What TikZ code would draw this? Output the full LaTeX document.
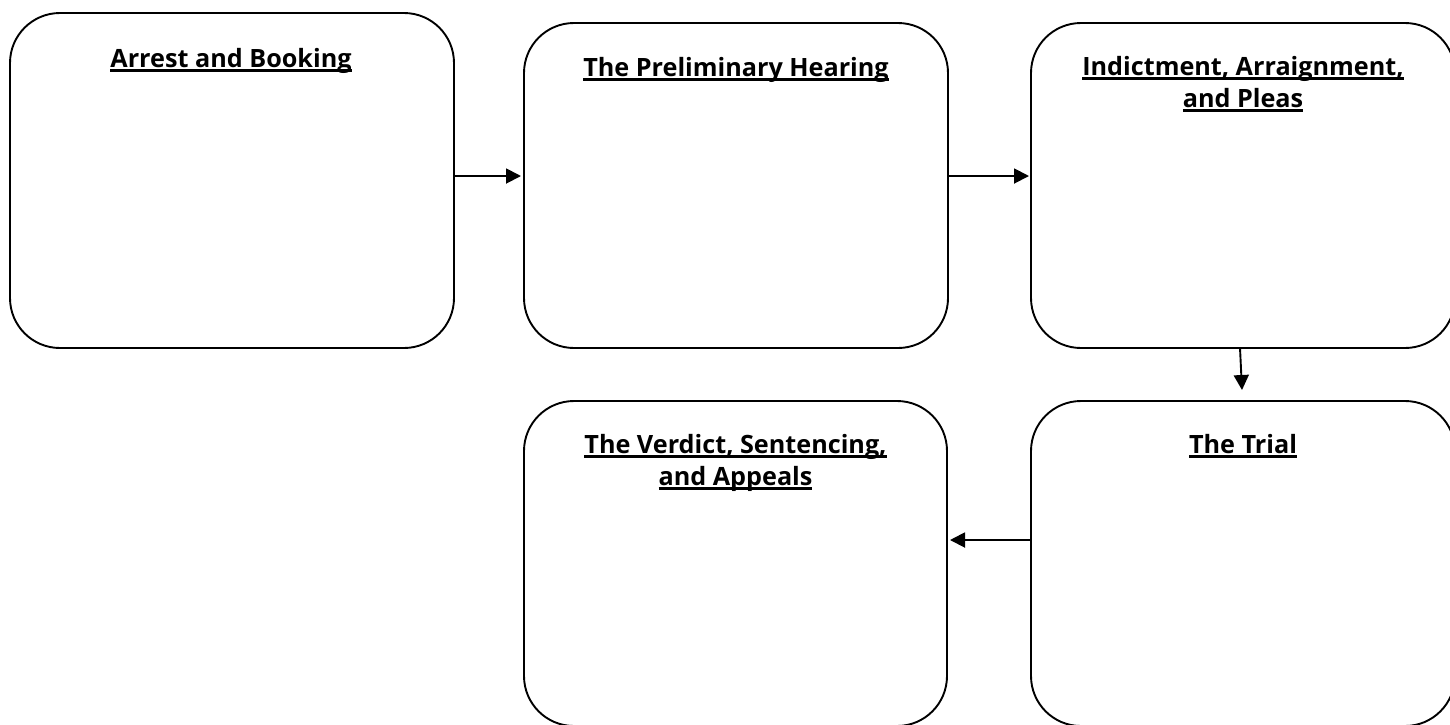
\documentclass[tikz,border=0pt]{standalone}
\usepackage{fontspec}
\setmainfont{Open Sans}
\usetikzlibrary{arrows.meta}
\newcommand\myuline[1]{\leavevmode\setbox0=\hbox{#1}\rlap{\rule[-4.6pt]{\wd0}{2.6pt}}\box0}
\tikzset{
  stage/.style={draw=black, line width=1.9pt, rounded corners=50pt, fill=white},
  title/.style={anchor=base, inner sep=0pt, font=\fontsize{25.2}{30}\selectfont\bfseries},
  flow/.style={line width=1.9pt, -{Triangle[length=15pt,width=15pt]}}
}
\begin{document}
\begin{tikzpicture}[x=1pt,y=-1pt]
\useasboundingbox (0,0) rectangle (1450,724);
\clip (0,0) rectangle (1450,724);
% boxes
\draw[stage] (10,13) rectangle (454,348);
\node[inner sep=0pt, minimum width=444pt, minimum height=335pt] (b1) at (232,180.5) {};
\draw[stage] (524,23) rectangle (948,348);
\node[inner sep=0pt, minimum width=424pt, minimum height=325pt] (b2) at (736,185.5) {};
\draw[stage] (1031,23) rectangle (1455,348);
\node[inner sep=0pt, minimum width=424pt, minimum height=325pt] (b3) at (1243,185.5) {};
\draw[stage] (1031,401) rectangle (1455,726);
\node[inner sep=0pt, minimum width=424pt, minimum height=325pt] (b5) at (1243,563.5) {};
\draw[stage] (524,401) rectangle (947,726);
\node[inner sep=0pt, minimum width=423pt, minimum height=325pt] (b4) at (735.5,563.5) {};
% titles
\node[title] (t1) at (231,67) {\myuline{Arrest and Booking}};
\node[title] (t2) at (736,76) {\myuline{The Preliminary Hearing}};
\node[title] (t3a) at (1243,75) {\myuline{Indictment, Arraignment,}};
\node[title] (t3b) at (1243,107) {\myuline{and Pleas}};
\node[title] (t5) at (1243,453) {\myuline{The Trial}};
\node[title] (t4a) at (735.5,453) {\myuline{The Verdict, Sentencing,}};
\node[title] (t4b) at (735.5,485) {\myuline{and Appeals}};
% connectors
\coordinate (c3) at (1240,348);
\coordinate (c3e) at (1242,390);
\draw[flow] (b1.east |- 0,176) -- (521,176);
\draw[flow] (b2.east |- 0,176) -- (1029,176);
\draw[flow] (c3) -- (c3e);
\draw[flow] (b5.west |- 0,540) -- (950,540);
\end{tikzpicture}
\end{document}
